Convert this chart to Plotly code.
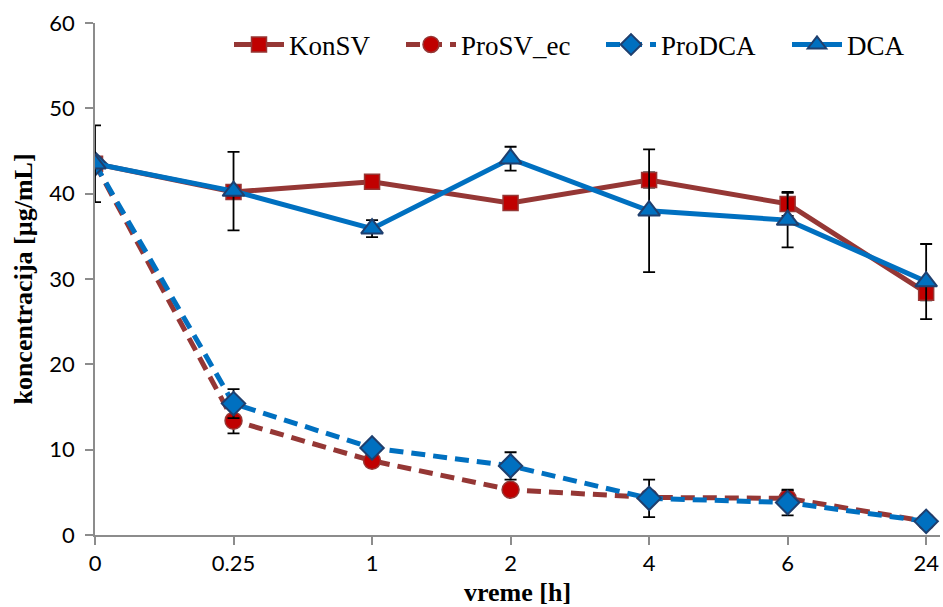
import plotly.graph_objects as go

# Sampling times (category labels) and measured concentrations [µg/mL]
vreme = ["0", "0.25", "1", "2", "4", "6", "24"]

konsv = [43.5, 40.2, 41.4, 38.9, 41.6, 38.8, 28.4]
konsv_err = [None, None, 0.8, 0.8, 0.9, 1.4, 0.9]

prosv_ec = [43.5, 13.4, 8.7, 5.3, 4.4, 4.3, 1.6]
prosv_ec_err = [None, 1.5, None, None, None, 0.9, None]

prodca = [43.5, 15.4, 10.2, 8.1, 4.3, 3.8, 1.6]
prodca_err = [None, 1.7, None, 1.6, 2.2, 1.5, None]

dca = [43.5, 40.3, 35.9, 44.1, 38.0, 36.9, 29.7]
dca_err = [4.5, 4.6, 1.0, 1.4, 7.2, 3.2, 4.4]

RED_LINE = "#953735"
RED_FILL = "#C00000"
BLUE = "#0070C0"
NAVY = "#1F3F6E"
AXIS = "#8C8C8C"
SERIF = "Liberation Serif, Times New Roman, serif"
SANS = "Lato, Carlito, sans-serif"
DASH = "14px,8px"

x_idx = list(range(len(vreme)))


def err(vals):
    return dict(type="data", array=vals, visible=True, color="black",
                thickness=1.8, width=6)


fig = go.Figure()

fig.add_trace(go.Scatter(
    x=x_idx, y=konsv, name="KonSV", mode="lines+markers", legend="legend",
    line=dict(color=RED_LINE, width=5),
    marker=dict(symbol="square", size=15, color=RED_FILL,
                line=dict(color=RED_LINE, width=1.5)),
    error_y=err(konsv_err)))

fig.add_trace(go.Scatter(
    x=x_idx, y=prosv_ec, name="ProSV_ec", mode="lines+markers", legend="legend2",
    line=dict(color=RED_LINE, width=5, dash=DASH),
    marker=dict(symbol="circle", size=17, color=RED_FILL,
                line=dict(color=RED_LINE, width=1.5)),
    error_y=err(prosv_ec_err)))

fig.add_trace(go.Scatter(
    x=x_idx, y=prodca, name="ProDCA", mode="lines+markers", legend="legend3",
    line=dict(color=BLUE, width=5, dash=DASH),
    marker=dict(symbol="diamond", size=18, color=BLUE,
                line=dict(color=NAVY, width=2)),
    error_y=err(prodca_err)))

fig.add_trace(go.Scatter(
    x=x_idx, y=dca, name="DCA", mode="lines+markers", legend="legend4",
    line=dict(color=BLUE, width=5),
    marker=dict(symbol="triangle-up", size=19, color=BLUE,
                line=dict(color=NAVY, width=2)),
    error_y=err(dca_err)))


def legend_at(px_left):
    # one single-entry legend per series, placed along the top of the plot
    return dict(orientation="h", x=(px_left - 95) / 845, y=1.005,
                xanchor="left", yanchor="top",
                font=dict(family=SERIF, size=27, color="black"),
                bgcolor="rgba(0,0,0,0)", itemwidth=50)


fig.update_layout(
    width=943, height=607,
    margin=dict(l=95, r=3, t=23, b=72),
    paper_bgcolor="white", plot_bgcolor="white",
    showlegend=True,
    legend=legend_at(229),
    legend2=legend_at(401),
    legend3=legend_at(601),
    legend4=legend_at(787),
    xaxis=dict(
        range=[0, 6.1], tickmode="array", tickvals=x_idx, ticktext=vreme,
        showgrid=False, zeroline=False, showline=True, linecolor=AXIS, linewidth=1.5,
        ticks="outside", ticklen=8, tickcolor=AXIS, tickwidth=1.5,
        tickfont=dict(family=SANS, size=22, color="black"),
        title=dict(text="<b>vreme [h]</b>", standoff=8,
                   font=dict(family=SERIF, size=26, color="black")),
    ),
    yaxis=dict(
        range=[0, 60], dtick=10,
        showgrid=False, zeroline=False, showline=True, linecolor=AXIS, linewidth=1.5,
        ticks="outside", ticklen=8, tickcolor=AXIS, tickwidth=1.5,
        ticklabelstandoff=6,
        tickfont=dict(family=SANS, size=22, color="black"),
        title=dict(text="<b>koncentracija [µg/mL]</b>", standoff=9,
                   font=dict(family=SERIF, size=26, color="black")),
    ),
    shapes=[dict(type="line", xref="paper", yref="y", x0=-0.011, x1=0, y0=0, y1=0,
                 line=dict(color=AXIS, width=1.5))],
)

fig.write_html("out.html")
